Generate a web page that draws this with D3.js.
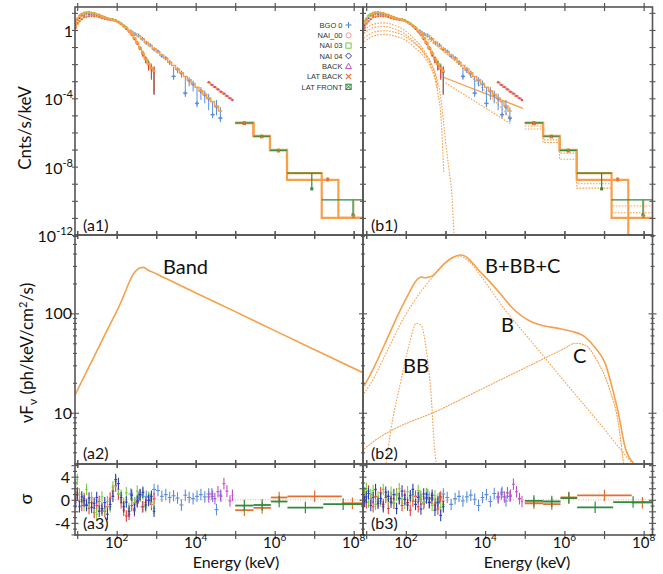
<!DOCTYPE html>
<html>
<head>
<meta charset="utf-8">
<script src="https://cdn.jsdelivr.net/npm/d3@7"></script>
<style>
  body { margin: 0; background: #fff; }
  svg { display: block; font-family: Lato, "Open Sans", sans-serif; }
</style>
</head>
<body>
<div id="vis"></div>
<script>
// ---------------- data ----------------
const eDomain = [8.8, 1.72e8];
const eTicks = [1e1, 1e2, 1e3, 1e4, 1e5, 1e6, 1e7, 1e8];
const eLabelExps = [2, 4, 6, 8];
const countLabelExps = [0, -4, -8, -12];
const fluxLabels = [10, 100];
const sigmaLabels = [-4, 0, 4];

// NaI channels (keV) and counts
const nEdges = [8.8, 9.5, 10.7, 12.2, 14, 16, 18.5, 21.5, 25, 29, 33.5, 39, 46, 54, 63, 74, 87, 102, 120, 140, 162, 190, 222, 260, 305, 360, 425, 500, 590, 700, 820, 950];
const n0Model = [1.3, 2.2, 3.3, 4.5, 5.5, 6.2, 6.6, 6.8, 6.6, 6.2, 5.7, 5.1, 4.6, 4.2, 3.9, 3.5, 3.1, 2.7, 2.2, 1.7, 1.25, 0.85, 0.53, 0.31, 0.16, 0.08, 0.038, 0.018, 0.0092, 0.0052, 0.0036];
const n3Model = [3.0, 4.8, 6.8, 8.8, 10.2, 11.0, 11.0, 10.5, 9.6, 8.6, 7.6, 6.6, 5.7, 5.0, 4.5, 4.0, 3.5, 2.9, 2.4, 1.9, 1.4, 0.95, 0.6, 0.36, 0.19, 0.095, 0.046, 0.022, 0.011, 0.0065, 0.0045];
const n4Model = [2.2, 3.6, 5.2, 6.8, 8.0, 8.8, 9.0, 8.8, 8.2, 7.5, 6.8, 6.0, 5.3, 4.7, 4.3, 3.8, 3.3, 2.8, 2.3, 1.8, 1.3, 0.88, 0.56, 0.33, 0.17, 0.085, 0.041, 0.020, 0.010, 0.0058, 0.0040];
const n0Data = [1.35, 2.4, 3.2, 4.3, 5.6, 6.0, 6.3, 6.7, 6.3, 6.1, 5.6, 4.9, 4.5, 4.1, 4.0, 3.7, 3.4, 2.8, 2.15, 1.6, 1.15, 0.8, 0.52, 0.29, 0.16, 0.085, 0.036, 0.019, 0.0095, 0.0048, 0.0038];
const n3Data = [3.3, 4.6, 7.1, 8.6, 10.5, 10.8, 11.3, 10.2, 9.9, 8.3, 7.8, 6.4, 5.9, 4.9, 4.4, 4.3, 3.8, 3.1, 2.5, 1.85, 1.45, 0.9, 0.62, 0.35, 0.2, 0.09, 0.048, 0.021, 0.012, 0.006, 0.0035];
const n4Data = [2.0, 3.8, 5.0, 7.0, 7.8, 9.1, 8.7, 9.0, 8.0, 7.7, 6.6, 6.2, 5.1, 4.8, 4.1, 3.9, 3.5, 2.9, 2.2, 1.75, 1.3, 0.84, 0.58, 0.32, 0.17, 0.088, 0.043, 0.019, 0.0098, 0.006, 0.0032];
const nErr = [0.15, 0.12, 0.1, 0.08, 0.07, 0.06, 0.06, 0.06, 0.06, 0.06, 0.06, 0.06, 0.06, 0.06, 0.07, 0.07, 0.07, 0.07, 0.08, 0.08, 0.09, 0.1, 0.12, 0.14, 0.17, 0.22, 0.3, 0.4, 0.55, 0.75, 0.95];

// BGO
const bEdges = [200, 260, 320, 400, 500, 630, 790, 990, 1240, 1560, 1960, 2460, 3090, 3880, 4870, 6110, 7670, 9630, 12100, 15200, 19000, 23900, 30000, 37700, 47300];
const bgoModel = [0.78, 0.6, 0.45, 0.3, 0.19, 0.12, 0.078, 0.052, 0.033, 0.021, 0.013, 0.0083, 0.0051, 0.0031, 0.0019, 0.0012, 7.3e-4, 4.5e-4, 2.8e-4, 1.7e-4, 1.05e-4, 6.5e-5, 3.5e-5, 1.8e-5];
const bgoData = [0.82, 0.57, 0.47, 0.31, 0.18, 0.125, 0.075, 0.055, 0.031, 0.022, 0.0125, 0.0019, 0.0048, 0.0029, 2.0e-4, 0.0011, 6.8e-4, 5.0e-5, 2.6e-4, 1.6e-4, 9.5e-5, 1.1e-5, 3.2e-5, 6.9e-6];
const bgoHi = [0.88, 0.62, 0.51, 0.34, 0.2, 0.14, 0.085, 0.063, 0.037, 0.027, 0.016, 0.007, 0.0065, 0.0042, 0.0018, 0.0017, 0.0011, 4.2e-4, 4.5e-4, 2.8e-4, 1.8e-4, 7e-5, 8e-5, 3.0e-5];
const bgoLo = [0.76, 0.52, 0.43, 0.28, 0.16, 0.11, 0.065, 0.047, 0.025, 0.017, 0.009, 0.0012, 0.003, 0.0016, 1.2e-4, 5e-4, 2.5e-4, 3e-5, 8e-5, 5e-5, 2e-5, 7e-6, 1e-5, 4e-6];

// LLE (BACK)
const lEdges = [19500, 23500, 28000, 33500, 40000, 47500, 56500, 67500, 80500, 90000];
const lleModel = [8.3e-4, 6.1e-4, 4.5e-4, 3.3e-4, 2.45e-4, 1.83e-4, 1.35e-4, 1.02e-4, 8.1e-5];
const lleData = [8.6e-4, 6.0e-4, 4.6e-4, 3.4e-4, 2.4e-4, 1.9e-4, 1.38e-4, 1.0e-4, 7.9e-5];

// LAT front / back
const latFEdges = [1e5, 2.9e5, 7.6e5, 2.05e6, 1.55e7, 1.72e8];
const latFModel = [3.8e-6, 6.3e-7, 9.6e-8, 4.2e-9, 1.0e-11];
const latFBar = [3.6e-6, 6.0e-7, 9.0e-8, 4.2e-9, 1.15e-10];
const latBEdges = [1e5, 2.9e5, 7.6e5, 2.05e6, 4.1e7, 1.72e8];
const latBModel = [3.5e-6, 5.8e-7, 8.8e-8, 1.7e-9, 1.0e-11];
const latBModelB = [3.5e-6, 5.8e-7, 8.8e-8, 1.7e-9, 1e-14];
const latFPtE = [1.7e5, 4.7e5, 1.25e6, 8.7e6, 9.6e7];
const latFPtV = [3.6e-6, 6.0e-7, 9.0e-8, 5e-10, 1.5e-11];
const latFPtHi = [4.2e-6, 7.0e-7, 1.1e-7, 4.2e-9, 1.15e-10];
const latFPtLo = [3.0e-6, 5.0e-7, 7.0e-8, 5e-10, 1.5e-11];
const latBPtE = [1.7e5, 4.7e5, 1.25e6, 2.2e7, 1.0e8];
const latBPtV = [3.4e-6, 5.6e-7, 8.6e-8, 1.8e-9, 1.2e-11];
const latBPtHi = [4.0e-6, 6.6e-7, 1.05e-7, 2.4e-9, 1.1e-10];
const latBPtLo = [2.8e-6, 4.6e-7, 6.8e-8, 1.3e-9, 1.2e-11];

// (b1) model components in count space
const compE = [8.8, 15.8, 28.2, 50.6, 90.6, 162, 291, 430, 520, 640];
const comp1C = [1.0, 2.2, 2.6, 1.9, 1.0, 0.3, 0.06, 0.012, 0.004, 5e-4];
const comp2C = [0.64, 1.4, 1.6, 1.2, 0.62, 0.2, 0.04, 0.008, 0.0025, 3e-4];
const comp3E = [8.8, 15.8, 28.2, 50.6, 90.6, 162, 291, 430, 520, 640, 765, 850, 900];
const comp3C = [0.2, 0.45, 0.55, 0.45, 0.28, 0.1, 0.025, 0.006, 0.002, 2e-4, 1e-5, 1.2e-7, 5e-9];
const bbCountE = [8.8, 15.8, 28.2, 50.6, 90.6, 162, 291, 430, 520, 600, 700, 800, 935, 1050, 1250, 1370, 1500, 1600, 1700];
const bbCountC = [0.33, 0.75, 0.9, 0.75, 0.45, 0.17, 0.045, 0.011, 0.0045, 0.0016, 3.5e-4, 4e-5, 1.5e-6, 1.2e-7, 5e-9, 1e-9, 6e-11, 3e-12, 5e-13];
const bgoBandE = [200, 500, 1000, 2500, 6000, 15000, 30000, 47000];
const bgoBandC = [0.7, 0.16, 0.045, 0.007, 9e-4, 1e-4, 1.8e-5, 5e-6];
const cplE = [900, 90000];
const cplC = [1.7e-3, 2.6e-5];
const bgoCplE = [1000, 46000];
const bgoCplC = [8e-4, 3e-6];
const latComp1 = [2.4e-6, 3.7e-7, 6.2e-8, 1.0e-9, 5e-11];
const latComp2 = [1.6e-6, 2.6e-7, 2.7e-8, 5.5e-10, 2e-11];

// nuFnu models
const bandE = [8.8, 20, 40, 80, 120, 150, 180, 250, 330, 400, 471, 600, 1000, 8700, 1e5, 1e6, 1e7, 1.72e8];
const bandF = [15.1, 29.1, 50.8, 88, 122, 150, 180, 240, 275, 287, 290, 275, 250, 165, 104, 67, 43.3, 25.3];
const totE = [8.8, 13.2, 30, 63, 120, 200, 250, 300, 400, 483, 700, 955, 1500, 2510, 3500, 4480, 7000, 1.2e4, 2.5e4, 4.6e4, 1.5e5, 3e5, 7e5, 1.5e6, 3.3e6, 6e6, 1.07e7, 1.6e7, 2.3e7, 3.4e7, 5.6e7];
const totF = [18.5, 24.9, 50, 96, 160, 222, 232, 228, 232, 240, 280, 318, 365, 386, 365, 331, 270, 216, 155, 116, 82, 75, 70.6, 66, 58, 45, 31.4, 18, 9.9, 4.5, 3.1];
const bE = [8.8, 13.2, 30, 92, 200, 525, 1000, 2300, 4000, 8100, 1.5e4, 3.2e4, 1e5, 1e6, 1e7, 4.2e7, 6e7];
const bF = [15.7, 19.8, 38, 92.3, 150, 243, 320, 377, 330, 233, 165, 108, 62.5, 20.7, 6.9, 3.4, 2.9];
const bbE = [31.8, 42, 76, 124, 182, 244, 327, 437, 525, 585];
const bbF = [3.1, 6.7, 21.4, 50, 79, 76, 42.6, 14.5, 4.55, 3.1];
const cE = [8.8, 13.2, 1e3, 1e4, 1e5, 1e6, 1.85e6, 3.3e6, 6.5e6, 1.4e7, 2.3e7, 3.1e7];
const cF = [4.3, 4.9, 11.4, 18, 28.2, 44.3, 50, 48, 34, 17, 7.8, 3.1];

// residuals (sigma)
const resA0 = [0.5, 1.2, -0.3, -1.0, 0.2, -0.8, -1.5, -0.5, -2.2, -1.0, -0.3, -1.8, -2.0, -1.2, 0.3, 1.5, 2.4, 1.0, -0.5, -1.8, -2.8, -2.5, -1.0, -1.9, -0.4, 0.8, -1.2, -0.5, 0.4, -0.8, 0.2];
const resA3 = [2.5, 3.5, 1.0, 0.0, -1.0, 1.8, -0.5, 0.4, -1.5, -2.5, -1.0, 0.5, -1.8, -0.3, -1.2, 2.2, 3.2, 1.8, 0.8, -0.6, 1.2, -1.5, 0.2, -0.8, 1.5, 0.6, 1.0, -1.2, 0.4, -0.4, -1.5];
const resA4 = [-0.5, 0.8, -1.2, 0.5, -0.2, -1.0, 0.3, -1.3, -0.6, 0.4, -2.0, -1.5, -0.5, -2.5, -0.8, 0.6, 3.5, 2.8, 0.4, -1.2, -0.4, -2.0, 0.8, -1.6, -0.2, 0.9, 1.3, -0.9, -0.1, 0.6, -2.0];
const resABgo = [1.0, -0.5, 0.3, -1.2, 0.6, 0.1, 1.8, 1.6, 0.6, 0.9, 0.4, 0.7, 0.3, -0.9, 0.8, 0.4, 0.2, 0.6, 0.9, 0.5, 1.0, 0.6, -1.7, 0.8];
const resALle = [0.5, 1.0, 0.2, 1.4, 0.6, 2.8, 1.5, -0.2, 0.8];
const resB0 = [0.8, -0.5, 1.5, 0.2, -1.2, 0.6, -0.3, 1.2, -0.8, 0.4, -1.5, 0.2, -0.6, 1.0, 0.3, -1.0, 0.8, -0.5, -1.8, -0.2, 0.6, -1.2, 0.1, -0.7, 1.0, -0.4, 0.3, -0.9, -1.6, 0.5, -0.2];
const resB3 = [1.2, 2.0, -0.4, 0.9, 1.6, -0.8, 0.5, -0.2, 1.8, 0.7, 0.0, 1.3, -0.5, 0.8, 1.9, 0.2, -0.6, 1.4, 0.3, 0.9, -0.3, 1.6, 0.6, -0.5, 1.1, 0.4, -1.0, 0.7, 0.1, -1.3, -0.8];
const resB4 = [-0.3, 0.5, 1.1, -1.0, 0.4, 1.8, -0.6, 0.2, -1.2, 1.3, 0.6, -0.4, 0.9, -1.5, 0.2, 1.5, 0.1, -0.9, 0.7, 1.8, -0.8, 0.4, -1.6, 1.0, 0.3, -0.5, 0.8, -1.8, -0.4, -2.7, -1.2];
const resBBgo = [0.6, -0.4, 0.9, 0.2, -0.6, 0.3, 1.0, 0.4, -0.8, 0.2, 0.6, -0.2, 0.5, 0.8, 0.1, -1.0, 0.4, 0.9, -0.3, 1.1, 0.5, 1.3, -0.2, 0.6];
const resBLle = [0.3, 1.0, 0.5, 1.2, 0.8, 2.7, 1.4, 0.2, -0.3];
const latResFEdges = [1e5, 2.9e5, 8e5, 2.1e6, 1.7e7, 1.72e8];
const latResBEdges = [1e5, 2.9e5, 8e5, 2.1e6, 5e7, 1.72e8];
const resAF = [-1.0, -0.9, -0.3, -1.35, -0.75];
const resAB = [-1.8, -1.4, 0.4, 0.6, -0.6];
const resBF = [-0.2, -0.3, 0.3, -1.3, -0.4];
const resBB = [-0.6, -0.75, 0.4, 0.75, -0.5];

const legendNames = ['BGO 0', 'NAI_00', 'NAI 03', 'NAI 04', 'BACK', 'LAT BACK', 'LAT FRONT'];
const legendColors = ['#4f86d6', '#f39a9a', '#7cc63a', '#2f3fb5', '#c454c9', '#e8733a', '#2e7d3a'];
const legendSymbols = ['plus', 'circle', 'square', 'diamond', 'triangle', 'cross', 'boxx'];

// ---------------- colours ----------------
const cModel = '#f7a04b', cBGO = '#5a8fdc', cN0 = '#e63b3b', cN3 = '#7ccc3a', cN4 = '#2c3db8',
      cLLE = '#c24fcb', cLATB = '#e4702f', cLATF = '#2f8a3a', cFrame = '#555';

// ---------------- layout ----------------
const W = 663, H = 574;
const svg = d3.select('#vis').append('svg').attr('width', W).attr('height', H);
const xA = d3.scaleLog().domain(eDomain).range([75, 363]);
const xB = d3.scaleLog().domain(eDomain).range([364, 653]);
const yC = d3.scaleLog().domain([1e-12, 22]).range([235, 7]);
const yF = d3.scaleLog().domain([3.05, 614]).range([464, 235]);
const yS = d3.scaleLinear().domain([-6.1, 6.2]).range([535, 464]);
const cols = [{ x: xA, x0: 75, x1: 363, tag: 'a' }, { x: xB, x0: 363, x1: 652.5, tag: 'b' }];
const rows = [{ y: yC, y0: 7, y1: 235 }, { y: yF, y0: 235, y1: 464 }, { y: yS, y0: 464, y1: 535 }];

const defs = svg.append('defs');
function cell(ci, ri) {
  const id = 'clip' + ci + ri;
  const c = cols[ci], r = rows[ri];
  defs.append('clipPath').attr('id', id).append('rect')
    .attr('x', c.x0).attr('y', r.y0).attr('width', c.x1 - c.x0).attr('height', r.y1 - r.y0);
  return svg.append('g').attr('clip-path', `url(#${id})`);
}

function pathLine(g, x, y, es, vs, curve) {
  return g.append('path').datum(es.map((e, i) => [e, vs[i]]))
    .attr('fill', 'none')
    .attr('d', d3.line().x(d => x(d[0])).y(d => y(d[1])).curve(curve));
}
function stepLine(g, x, y, edges, vals) {
  const pts = vals.concat([vals[vals.length - 1]]);
  return pathLine(g, x, y, edges, pts, d3.curveStepAfter);
}
const mid = (edges, i) => Math.sqrt(edges[i] * edges[i + 1]);

// ---------------- row 1: counts spectra ----------------
function drawCounts(ci) {
  const x = cols[ci].x, y = yC;
  const g = cell(ci, 0);

  if (ci === 1) {
    // component models, dotted
    [comp1C, comp2C].forEach(cs => pathLine(g, x, y, compE, cs, d3.curveMonotoneX)
      .attr('stroke', cModel).attr('stroke-width', 1.1).attr('stroke-dasharray', '1.6,1.4'));
    pathLine(g, x, y, comp3E, comp3C, d3.curveMonotoneX)
      .attr('stroke', cModel).attr('stroke-width', 1.1).attr('stroke-dasharray', '1.6,1.4');
    pathLine(g, x, y, bbCountE, bbCountC, d3.curveMonotoneX)
      .attr('stroke', cModel).attr('stroke-width', 1.1).attr('stroke-dasharray', '1.6,1.4');
    pathLine(g, x, y, bgoBandE, bgoBandC, d3.curveMonotoneX)
      .attr('stroke', cModel).attr('stroke-width', 1.1).attr('stroke-dasharray', '1.6,1.4');
    pathLine(g, x, y, bgoCplE, bgoCplC, d3.curveLinear)
      .attr('stroke', cModel).attr('stroke-width', 1.1).attr('stroke-dasharray', '1.6,1.4');
    pathLine(g, x, y, cplE, cplC, d3.curveLinear)
      .attr('stroke', cModel).attr('stroke-width', 1.3);
    [latComp1, latComp2].forEach(cs => stepLine(g, x, y, latFEdges, cs)
      .attr('stroke', cModel).attr('stroke-width', 1.1).attr('stroke-dasharray', '1.6,1.4'));
  }

  // NaI data (blue first, red on top)
  [[n4Data, cN4], [n3Data, cN3], [n0Data, cN0]].forEach(([data, color]) => {
    const pts = g.append('g');
    pts.selectAll('line').data(data).join('line')
      .attr('x1', (d, i) => x(mid(nEdges, i))).attr('x2', (d, i) => x(mid(nEdges, i)))
      .attr('y1', (d, i) => y(nErr[i] < 1 ? d * (1 - nErr[i]) : d * 0.05))
      .attr('y2', (d, i) => y(d * (1 + nErr[i])))
      .attr('stroke', color).attr('stroke-width', 1);
    pts.selectAll('circle').data(data).join('circle')
      .attr('cx', (d, i) => x(mid(nEdges, i))).attr('cy', d => y(d))
      .attr('r', 1.1).attr('fill', color);
  });

  // BGO data
  const bg = g.append('g').attr('stroke', cBGO).attr('stroke-width', 1);
  bg.selectAll('line.v').data(bgoData).join('line').attr('class', 'v')
    .attr('x1', (d, i) => x(mid(bEdges, i))).attr('x2', (d, i) => x(mid(bEdges, i)))
    .attr('y1', (d, i) => y(bgoLo[i])).attr('y2', (d, i) => y(bgoHi[i]));
  bg.selectAll('line.h').data(bgoData).join('line').attr('class', 'h')
    .attr('x1', (d, i) => x(bEdges[i])).attr('x2', (d, i) => x(bEdges[i + 1]))
    .attr('y1', d => y(d)).attr('y2', d => y(d));
  bg.selectAll('path').data(bgoData).join('path')
    .attr('d', (d, i) => `M${x(mid(bEdges, i)) - 2},${y(d)}h4M${x(mid(bEdges, i))},${y(d) - 2}v4`)
    .attr('stroke-width', 1.3);

  // total models drawn over the points
  [n0Model, n3Model, n4Model].forEach(m => stepLine(g, x, y, nEdges, m)
    .attr('stroke', cModel).attr('stroke-width', 1.1).attr('stroke-opacity', 0.9));
  stepLine(g, x, y, bEdges, bgoModel).attr('stroke', cModel).attr('stroke-width', 1.5);
  stepLine(g, x, y, lEdges, lleModel).attr('stroke', cModel).attr('stroke-width', 1.5);
  stepLine(g, x, y, latFEdges, latFModel).attr('stroke', cModel).attr('stroke-width', 2.2);
  stepLine(g, x, y, latBEdges, ci === 0 ? latBModel : latBModelB).attr('stroke', cModel).attr('stroke-width', 2.2);

  // LLE data
  g.append('g').selectAll('circle').data(lleData).join('circle')
    .attr('cx', (d, i) => x(mid(lEdges, i))).attr('cy', d => y(d)).attr('r', 1.2)
    .attr('fill', (d, i) => i % 2 ? cLLE : '#e0505a');

  // LAT data
  const lf = g.append('g').attr('stroke', cLATF).attr('stroke-width', 1.2);
  lf.selectAll('line.h').data(latFBar).join('line').attr('class', 'h')
    .attr('x1', (d, i) => x(latFEdges[i])).attr('x2', (d, i) => x(latFEdges[i + 1]))
    .attr('y1', d => y(d)).attr('y2', d => y(d));
  lf.selectAll('line.v').data(latFPtE).join('line').attr('class', 'v')
    .attr('x1', d => x(d)).attr('x2', d => x(d))
    .attr('y1', (d, i) => y(latFPtLo[i])).attr('y2', (d, i) => y(latFPtHi[i]));
  lf.selectAll('rect').data(latFPtE).join('rect')
    .attr('x', d => x(d) - 1.5).attr('y', (d, i) => y(latFPtV[i]) - 1.5)
    .attr('width', 3).attr('height', 3).attr('fill', cLATF).attr('stroke', 'none');
  const lb = g.append('g').attr('stroke', cLATB).attr('stroke-width', 1.1);
  lb.selectAll('line').data(latBPtE).join('line')
    .attr('x1', d => x(d)).attr('x2', d => x(d))
    .attr('y1', (d, i) => y(latBPtLo[i])).attr('y2', (d, i) => y(latBPtHi[i]));
  lb.selectAll('path').data(latBPtE).join('path')
    .attr('d', (d, i) => `M${x(d) - 1.6},${y(latBPtV[i]) - 1.6}l3.2,3.2M${x(d) + 1.6},${y(latBPtV[i]) - 1.6}l-3.2,3.2`);
}
drawCounts(0);
drawCounts(1);

// ---------------- row 2: nuFnu ----------------
const ga2 = cell(0, 1);
pathLine(ga2, xA, yF, bandE, bandF, d3.curveMonotoneX).attr('stroke', cModel).attr('stroke-width', 1.6);
const gb2 = cell(1, 1);
pathLine(gb2, xB, yF, cE, cF, d3.curveMonotoneX).attr('stroke', cModel).attr('stroke-width', 1.1).attr('stroke-dasharray', '2,0.8');
pathLine(gb2, xB, yF, bE, bF, d3.curveMonotoneX).attr('stroke', cModel).attr('stroke-width', 1.1).attr('stroke-dasharray', '1.6,1.4');
pathLine(gb2, xB, yF, bbE, bbF, d3.curveMonotoneX).attr('stroke', cModel).attr('stroke-width', 1.1).attr('stroke-dasharray', '1.6,1.4');
pathLine(gb2, xB, yF, totE, totF, d3.curveMonotoneX).attr('stroke', cModel).attr('stroke-width', 1.6);

// ---------------- row 3: residuals ----------------
function drawRes(ci, sets, latF, latB) {
  const x = cols[ci].x, y = yS;
  const g = cell(ci, 2);
  g.append('line').attr('x1', cols[ci].x0).attr('x2', cols[ci].x1).attr('y1', y(0)).attr('y2', y(0))
    .attr('stroke', '#f5b27a').attr('stroke-width', 1).attr('stroke-dasharray', '1,1.5');
  sets.forEach(([vals, edges, color]) => {
    const s = g.append('g').attr('stroke', color).attr('stroke-width', 1.1);
    s.selectAll('line.h').data(vals).join('line').attr('class', 'h')
      .attr('x1', (d, i) => x(edges[i])).attr('x2', (d, i) => x(edges[i + 1]))
      .attr('y1', d => y(d)).attr('y2', d => y(d));
    s.selectAll('line.v').data(vals).join('line').attr('class', 'v')
      .attr('x1', (d, i) => x(mid(edges, i))).attr('x2', (d, i) => x(mid(edges, i)))
      .attr('y1', d => y(d - 1)).attr('y2', d => y(d + 1));
  });
  [[latB, latResBEdges, cLATB], [latF, latResFEdges, cLATF]].forEach(([vals, edges, color]) => {
    const s = g.append('g').attr('stroke', color).attr('stroke-width', 1.8);
    s.selectAll('line.h').data(vals).join('line').attr('class', 'h')
      .attr('x1', (d, i) => x(edges[i])).attr('x2', (d, i) => x(edges[i + 1]))
      .attr('y1', d => y(d)).attr('y2', d => y(d));
    s.selectAll('line.v').data(vals).join('line').attr('class', 'v')
      .attr('x1', (d, i) => x(mid(edges, i))).attr('x2', (d, i) => x(mid(edges, i)))
      .attr('y1', d => y(d - 1)).attr('y2', d => y(d + 1)).attr('stroke-width', 1.2);
  });
}
drawRes(0, [[resABgo, bEdges, cBGO], [resALle, lEdges, cLLE], [resA0, nEdges, cN0], [resA3, nEdges, cN3], [resA4, nEdges, cN4]], resAF, resAB);
drawRes(1, [[resBBgo, bEdges, cBGO], [resBLle, lEdges, cLLE], [resB0, nEdges, cN0], [resB3, nEdges, cN3], [resB4, nEdges, cN4]], resBF, resBB);

// ---------------- frames and ticks ----------------
const axes = svg.append('g');
rows.forEach(r => {
  cols.forEach(c => {
    axes.append('rect').attr('x', c.x0).attr('y', r.y0).attr('width', c.x1 - c.x0).attr('height', r.y1 - r.y0)
      .attr('fill', 'none').attr('stroke', cFrame).attr('stroke-width', 1.6);
    [r.y0, r.y1].forEach(yy => {
      axes.append('g').attr('transform', `translate(0,${yy})`)
        .call(d3.axisBottom(c.x).tickValues(eTicks).tickSize(4).tickFormat(''))
        .call(a => a.select('.domain').remove())
        .call(a => a.selectAll('.tick line').attr('y1', -4).attr('stroke', cFrame).attr('stroke-width', 1.2));
    });
  });
});
function yTicks(scale, values, half) {
  [75, 363, 652.5].forEach(xx => {
    axes.append('g').attr('transform', `translate(${xx},0)`)
      .call(d3.axisLeft(scale).tickValues(values).tickSize(half).tickFormat(''))
      .call(a => a.select('.domain').remove())
      .call(a => a.selectAll('.tick line').attr('x1', half).attr('stroke', cFrame).attr('stroke-width', 1.1));
  });
}
yTicks(yC, d3.range(-12, 2).map(p => Math.pow(10, p)), 3);
yTicks(yF, yF.ticks().filter(v => ![10, 100].includes(v)), 2);
yTicks(yF, [10, 100], 4);
yTicks(yS, d3.range(-6, 7).filter(v => v % 2 !== 0), 2);
yTicks(yS, d3.range(-6, 7, 2), 3.5);

// ---------------- tick labels ----------------
const lab = svg.append('g').attr('fill', '#111');
function powLabel(sel, exp, supSize) {
  sel.append('tspan').text('10');
  sel.append('tspan').attr('dy', -7).attr('font-size', supSize).text(exp < 0 ? '-' + (-exp) : exp);
}
cols.forEach(c => {
  eLabelExps.forEach(p => {
    const t = lab.append('text').attr('x', c.x(Math.pow(10, p))).attr('y', 548)
      .attr('text-anchor', 'middle').attr('font-size', 15);
    powLabel(t, p, 10);
  });
});
countLabelExps.forEach(p => {
  const t = lab.append('text').attr('x', 73).attr('y', yC(Math.pow(10, p)) + 7)
    .attr('text-anchor', 'end').attr('font-size', 16);
  if (p === 0) t.text('1'); else powLabel(t, p, 11);
});
fluxLabels.forEach(v => lab.append('text').attr('x', 72).attr('y', yF(v) + 6)
  .attr('text-anchor', 'end').attr('font-size', 16).text(v));
sigmaLabels.forEach(v => lab.append('text').attr('x', 70).attr('y', yS(v) + 6)
  .attr('text-anchor', 'end').attr('font-size', 16).text(v));

// axis titles
lab.append('text').attr('transform', 'translate(30.5,128) rotate(-90)').attr('text-anchor', 'middle')
  .attr('font-size', 17).text('Cnts/s/keV');
const fl = lab.append('text').attr('transform', 'translate(32.5,353) rotate(-90)').attr('text-anchor', 'middle')
  .attr('font-size', 17);
fl.append('tspan').text('νF');
fl.append('tspan').attr('dy', 4).attr('font-size', 12).text('ν');
fl.append('tspan').attr('dy', -4).text(' (ph/keV/cm');
fl.append('tspan').attr('dy', -6).attr('font-size', 11).text('2');
fl.append('tspan').attr('dy', 6).text('/s)');
lab.append('text').attr('transform', 'translate(32,499) rotate(-90)').attr('text-anchor', 'middle')
  .attr('font-size', 18).text('σ');
[236, 527].forEach(cx => lab.append('text').attr('x', cx).attr('y', 568).attr('text-anchor', 'middle')
  .attr('font-size', 16).text('Energy (keV)'));

// panel tags
[['(a1)', 83, 231], ['(b1)', 371, 231], ['(a2)', 83, 459], ['(b2)', 371, 459], ['(a3)', 83, 529], ['(b3)', 371, 529]]
  .forEach(([t, x, y]) => lab.append('text').attr('x', x).attr('y', y).attr('font-size', 16).text(t));

// model names
[['Band', 163, 274], ['B+BB+C', 485, 273], ['B', 501, 332], ['BB', 403, 373], ['C', 573, 363]]
  .forEach(([t, x, y]) => lab.append('text').attr('x', x).attr('y', y).attr('font-size', 20).text(t));

// ---------------- legend ----------------
const leg = svg.append('g').attr('font-family', '"Liberation Sans", Arial, sans-serif').attr('font-size', 7.5);
legendNames.forEach((name, i) => {
  const yy = 25 + i * 10.3;
  leg.append('text').attr('x', 342.5).attr('y', yy + 2.7).attr('text-anchor', 'end').attr('fill', '#333').text(name);
  const s = leg.append('g').attr('transform', `translate(348.5,${yy})`)
    .attr('stroke', legendColors[i]).attr('stroke-width', 1).attr('fill', 'none');
  const sym = legendSymbols[i];
  if (sym === 'plus') s.append('path').attr('d', 'M-3,0h6M0,-3v6');
  if (sym === 'circle') s.append('circle').attr('r', 2.6);
  if (sym === 'square') s.append('rect').attr('x', -2.6).attr('y', -2.6).attr('width', 5.2).attr('height', 5.2);
  if (sym === 'diamond') s.append('path').attr('d', 'M0,-3L3,0L0,3L-3,0Z');
  if (sym === 'triangle') s.append('path').attr('d', 'M0,-3L3,2.4H-3Z');
  if (sym === 'cross') s.append('path').attr('d', 'M-2.6,-2.6L2.6,2.6M2.6,-2.6L-2.6,2.6').attr('stroke-width', 1.3);
  if (sym === 'boxx') {
    s.append('rect').attr('x', -2.6).attr('y', -2.6).attr('width', 5.2).attr('height', 5.2);
    s.append('path').attr('d', 'M-2.6,-2.6L2.6,2.6M2.6,-2.6L-2.6,2.6');
  }
});
</script>
</body>
</html>
